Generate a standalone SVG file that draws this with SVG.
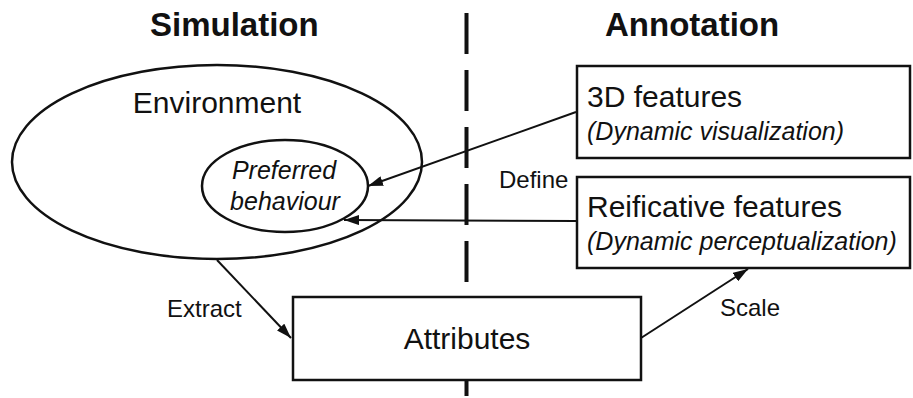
<svg xmlns="http://www.w3.org/2000/svg" width="913" height="398" viewBox="0 0 913 398">
  <defs>
    <style>
      .t { font-family: "Liberation Sans", Arial, sans-serif; fill: #111; }
      .h { font-size: 33px; font-weight: bold; }
      .big { font-size: 30px; }
      .it { font-size: 25px; font-style: italic; }
      .lbl { font-size: 24px; }
      .shape { fill: #fff; stroke: #111; stroke-width: 2.5; }
      .ell { fill: none; stroke: #111; stroke-width: 2.5; }
      .conn { stroke: #111; stroke-width: 2; fill: none; marker-end: url(#arr); }
    </style>
    <marker id="arr" markerUnits="userSpaceOnUse" markerWidth="16" markerHeight="10" refX="15" refY="5" orient="auto">
      <path d="M0,0 L15,5 L0,10 z" fill="#111"/>
    </marker>
  </defs>
  <rect width="913" height="398" fill="#fff"/>

  <g id="headings">
    <text class="t h" x="150" y="36">Simulation</text>
    <text class="t h" x="605" y="36">Annotation</text>
  </g>

  <g id="divider">
    <line x1="466.5" y1="13" x2="466.5" y2="398" stroke="#111" stroke-width="4" stroke-dasharray="41 16"/>
  </g>

  <g id="environment">
    <ellipse class="ell" cx="217" cy="162" rx="205" ry="97"/>
    <text class="t big" x="217" y="113" text-anchor="middle">Environment</text>
  </g>

  <g id="preferred-behaviour">
    <ellipse class="ell" cx="285" cy="186" rx="83" ry="46"/>
    <text class="t it" x="284" y="179" text-anchor="middle">Preferred</text>
    <text class="t it" x="285" y="210" text-anchor="middle">behaviour</text>
  </g>

  <g id="features-3d">
    <rect class="shape" x="577" y="66" width="333" height="92"/>
    <text class="t big" x="587" y="107">3D features</text>
    <text class="t it" x="587" y="140">(Dynamic visualization)</text>
  </g>

  <g id="reificative-features">
    <rect class="shape" x="577" y="177" width="333" height="91"/>
    <text class="t big" x="587" y="217">Reificative features</text>
    <text class="t it" x="587" y="250">(Dynamic perceptualization)</text>
  </g>

  <g id="attributes">
    <rect class="shape" x="293" y="297" width="348" height="83"/>
    <text class="t big" x="467" y="349" text-anchor="middle">Attributes</text>
  </g>

  <g id="connectors">
    <line class="conn" x1="576" y1="112" x2="368" y2="186"/>
    <line class="conn" x1="576" y1="221" x2="344" y2="220"/>
    <line class="conn" x1="217" y1="260" x2="291" y2="338"/>
    <line class="conn" x1="641" y1="338" x2="748" y2="269"/>
  </g>

  <g id="labels">
    <text class="t lbl" x="499" y="188">Define</text>
    <text class="t lbl" x="167" y="317">Extract</text>
    <text class="t lbl" x="720" y="316">Scale</text>
  </g>
</svg>
